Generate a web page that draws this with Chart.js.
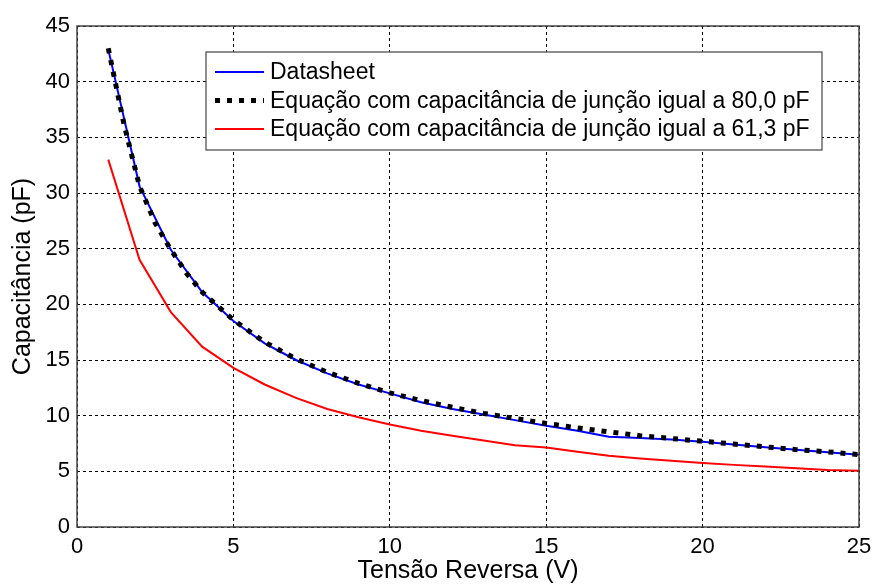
<!DOCTYPE html>
<html>
<head>
<meta charset="utf-8">
<script src="https://cdn.jsdelivr.net/npm/chart.js@4/dist/chart.umd.min.js"></script>
<style>
  html, body { margin: 0; padding: 0; background: #fff; }
  #wrap { width: 872px; height: 585px; }
</style>
</head>
<body>
<div id="wrap"><canvas id="chart" width="872" height="585"></canvas></div>
<script>
// tensão reversa (V) and capacitância (pF)
const vDatasheet = [1, 2, 3, 4, 5, 6, 7, 8, 9, 10, 11, 12, 13, 14, 15, 16, 17, 18, 19, 20, 21, 22, 23, 24, 25];
const cDatasheet = [42.9, 30.6, 24.9, 21.1, 18.5, 16.5, 15.0, 13.8, 12.8, 12.0, 11.2, 10.6, 10.1, 9.6, 9.1, 8.65, 8.1, 8.0, 7.85, 7.65, 7.42, 7.17, 6.93, 6.72, 6.48];

const vEq80 = [1, 1.5, 2, 2.5, 3, 3.5, 4, 5, 6, 7, 8, 9, 10, 11, 12, 13, 14, 15, 16, 17, 18, 19, 20, 21, 22, 23, 24, 25];
const cEq80 = [43.0, 36.2, 30.6, 27.3, 24.9, 22.8, 21.1, 18.6, 16.6, 15.1, 13.9, 12.9, 12.05, 11.35, 10.75, 10.2, 9.75, 9.3, 8.9, 8.55, 8.2, 7.95, 7.7, 7.45, 7.2, 6.95, 6.75, 6.5];

const vEq61 = [1, 2, 3, 4, 5, 6, 7, 8, 9, 10, 11, 12, 13, 14, 15, 16, 17, 18, 19, 20, 21, 22, 23, 24, 25];
const cEq61 = [33.0, 24.0, 19.3, 16.2, 14.3, 12.8, 11.6, 10.6, 9.85, 9.2, 8.65, 8.2, 7.77, 7.35, 7.14, 6.75, 6.4, 6.15, 5.94, 5.75, 5.58, 5.43, 5.28, 5.13, 5.05];

const seriesLabels = [
  'Datasheet',
  'Equação com capacitância de junção igual a 80,0 pF',
  'Equação com capacitância de junção igual a 61,3 pF'
];
const xTicks = [0, 5, 10, 15, 20, 25];
const yTicks = [0, 5, 10, 15, 20, 25, 30, 35, 40, 45];

const toPoints = (xs, ys) => xs.map((x, i) => ({ x: x, y: ys[i] }));

const FONT = 'Arial, "Liberation Sans", sans-serif';

// frame around the plot area (MATLAB box)
const framePlugin = {
  id: 'frame',
  afterDatasetsDraw(chart) {
    const { ctx, chartArea: a } = chart;
    ctx.save();
    ctx.strokeStyle = '#444';
    ctx.lineWidth = 1.5;
    ctx.strokeRect(a.left, a.top, a.right - a.left, a.bottom - a.top);
    ctx.restore();
  }
};

// legend box inside the plot, like the original
const boxLegend = {
  id: 'boxLegend',
  afterDraw(chart) {
    const ctx = chart.ctx;
    const x0 = 206, y0 = 52, w = 616, h = 98;
    ctx.save();
    ctx.fillStyle = '#fff';
    ctx.fillRect(x0, y0, w, h);
    ctx.strokeStyle = '#444';
    ctx.lineWidth = 1.2;
    ctx.strokeRect(x0, y0, w, h);
    ctx.font = '23px ' + FONT;
    ctx.textBaseline = 'middle';
    ctx.fillStyle = '#000';
    const rows = [72, 100.5, 129];
    chart.data.datasets.forEach((ds, i) => {
      const y = rows[i];
      ctx.beginPath();
      ctx.strokeStyle = ds.borderColor;
      ctx.lineWidth = ds.borderWidth;
      ctx.setLineDash(ds.borderDash || []);
      ctx.lineCap = 'butt';
      ctx.moveTo(215, y);
      ctx.lineTo(264, y);
      ctx.stroke();
      ctx.setLineDash([]);
      ctx.fillText(ds.label, 270, y + 1);
    });
    ctx.restore();
  }
};

new Chart(document.getElementById('chart'), {
  type: 'line',
  data: {
    datasets: [
      {
        label: seriesLabels[0],
        data: toPoints(vDatasheet, cDatasheet),
        borderColor: '#0000ff',
        borderWidth: 2,
        pointRadius: 0,
        tension: 0,
        order: 1
      },
      {
        label: seriesLabels[1],
        data: toPoints(vEq80, cEq80),
        borderColor: '#000000',
        borderWidth: 5,
        borderDash: [5, 7],
        borderCapStyle: 'butt',
        pointRadius: 0,
        tension: 0,
        order: 0
      },
      {
        label: seriesLabels[2],
        data: toPoints(vEq61, cEq61),
        borderColor: '#ff0000',
        borderWidth: 2,
        pointRadius: 0,
        tension: 0,
        order: 2
      }
    ]
  },
  options: {
    responsive: false,
    animation: false,
    layout: { padding: { left: 0, top: 26, right: 13, bottom: 0 } },
    plugins: {
      legend: { display: false },
      tooltip: { enabled: false }
    },
    scales: {
      x: {
        type: 'linear',
        min: 0,
        max: 25,
        afterFit: (s) => {
          s.height = 58;
          s.paddingLeft = 0;
          s.paddingRight = 0;
        },
        afterBuildTicks: (s) => { s.ticks = xTicks.map(v => ({ value: v })); },
        grid: { color: '#000', lineWidth: 1, drawTicks: false },
        border: { display: false, dash: [3, 3] },
        ticks: { color: '#000', padding: 7, font: { size: 22, family: FONT } },
        title: {
          display: true,
          text: 'Tensão Reversa (V)',
          color: '#000',
          font: { size: 25, family: FONT, lineHeight: 1.1 },
          padding: { top: 0, bottom: 0 }
        }
      },
      y: {
        type: 'linear',
        min: 0,
        max: 45,
        afterFit: (s) => {
          s.width = 77;
          s.paddingTop = 0;
          s.paddingBottom = 0;
        },
        afterBuildTicks: (s) => { s.ticks = yTicks.map(v => ({ value: v })); },
        grid: { color: '#000', lineWidth: 1, drawTicks: false },
        border: { display: false, dash: [3, 3] },
        ticks: { color: '#000', padding: 7, font: { size: 22, family: FONT } },
        title: {
          display: true,
          text: 'Capacitância (pF)',
          color: '#000',
          font: { size: 25, family: FONT, lineHeight: 1.2 },
          padding: { top: 8, bottom: 0 }
        }
      }
    }
  },
  plugins: [framePlugin, boxLegend]
});
</script>
</body>
</html>
